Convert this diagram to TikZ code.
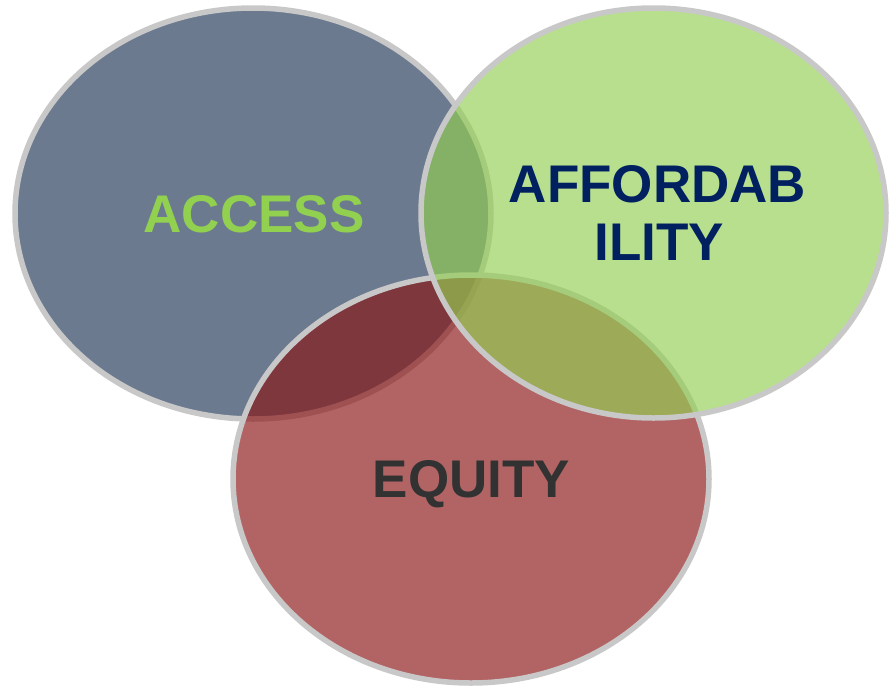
\documentclass[tikz,border=0pt]{standalone}
\usepackage{fontspec}
\setmainfont{Liberation Sans}
\definecolor{accfill}{RGB}{31,53,85}
\definecolor{afffill}{RGB}{147,207,82}
\definecolor{equfill}{RGB}{138,20,20}
\definecolor{rimgray}{RGB}{200,200,200}
\definecolor{accgreen}{RGB}{146,208,80}
\definecolor{affnavy}{RGB}{0,32,96}
\definecolor{equgray}{RGB}{50,50,50}
\tikzset{
	blob/.style={draw=rimgray, line width=5.5pt, fill opacity=0.66},
	word/.style={anchor=base, font=\fontsize{53}{57}\selectfont\bfseries, inner sep=0pt}
}
\begin{document}
\begin{tikzpicture}[x=1pt,y=-1pt]
		\useasboundingbox (0,0) rectangle (889,688);
		% circles, bottom one first
		\draw[blob, fill=accfill] (253,213.5) ellipse [x radius=238, y radius=205.5];
		\draw[blob, fill=equfill] (471,479) ellipse [x radius=238, y radius=204];
		\draw[blob, fill=afffill] (653.5,213) ellipse [x radius=232.5, y radius=205];

		% labels
		\node[word, text=accgreen] (access) at (254,232) {ACCESS};
		\node[word, text=affnavy] (afford1) at (657.5,202) {AFFORDAB};
		\node[word, text=affnavy] (afford2) at (659.5,260) {ILITY};
		\node[word, text=equgray] (equity) at (471.5,497) {EQUITY};
\end{tikzpicture}
\end{document}
